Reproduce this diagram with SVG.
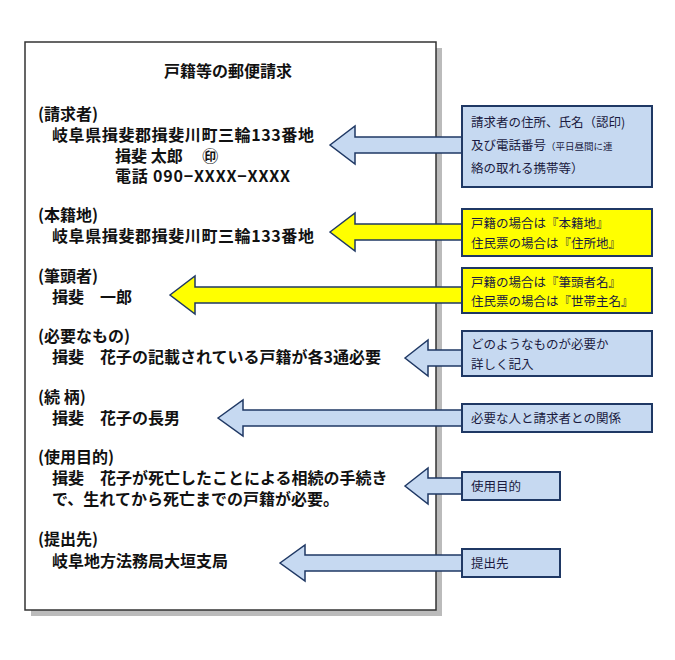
<svg xmlns="http://www.w3.org/2000/svg" width="675" height="660" viewBox="0 0 675 660">
<style>
.pt{font-family:"Noto Sans CJK JP","Noto Sans",sans-serif;font-weight:bold;font-size:16px;fill:#111}
.ct{font-family:"Noto Sans CJK JP","Noto Sans",sans-serif;font-size:12.5px;fill:#1a1a40}
.bb{fill:#c6d9f1;stroke:#1f3864;stroke-width:2}
.yb{fill:#ffff00;stroke:#1f3864;stroke-width:2}
.ba{fill:#c6d9f1;stroke:#1f3864;stroke-width:1.5;stroke-linejoin:miter}
.ya{fill:#ffff00;stroke:#1f3864;stroke-width:1.5}
</style>
<rect width="675" height="660" fill="#fff"/>
<g id="page">
<rect x="31" y="48" width="411" height="568" fill="#bbbbbb"/>
<rect x="25" y="42" width="411" height="568" fill="#fff" stroke="#333" stroke-width="1.5"/>
<text class="pt" x="228" y="77" text-anchor="middle" font-size="14">戸籍等の郵便請求</text>
<text class="pt" x="38" y="120">(請求者)</text>
<text class="pt" x="52" y="141" letter-spacing="0.6">岐阜県揖斐郡揖斐川町三輪133番地</text>
<text class="pt" x="115" y="162">揖斐 太郎　 ㊞</text>
<text class="pt" x="115" y="182" letter-spacing="0.8">電話 090−XXXX−XXXX</text>
<text class="pt" x="38" y="221">(本籍地)</text>
<text class="pt" x="52" y="242" letter-spacing="0.6">岐阜県揖斐郡揖斐川町三輪133番地</text>
<text class="pt" x="38" y="282">(筆頭者)</text>
<text class="pt" x="52" y="303">揖斐　一郎</text>
<text class="pt" x="38" y="342">(必要なもの)</text>
<text class="pt" x="52" y="363">揖斐　花子の記載されている戸籍が各3通必要</text>
<text class="pt" x="38" y="403">(続 柄)</text>
<text class="pt" x="52" y="424">揖斐　花子の長男</text>
<text class="pt" x="38" y="463">(使用目的)</text>
<text class="pt" x="52" y="484">揖斐　花子が死亡したことによる相続の手続き</text>
<text class="pt" x="52" y="505">で、生れてから死亡までの戸籍が必要。</text>
<text class="pt" x="38" y="545">(提出先)</text>
<text class="pt" x="52" y="567">岐阜地方法務局大垣支局</text>
</g>
<g id="connectors">
<polygon class="ba" points="330,145 355,126 355,137 463,137 463,153 355,153 355,164"/>
<polygon class="ya" points="330,232 355,213 355,224 463,224 463,240 355,240 355,251"/>
<polygon class="ya" points="170,295 195,276 195,287 463,287 463,303 195,303 195,314"/>
<polygon class="ba" points="405,358 428,340 428,350 463,350 463,366 428,366 428,376"/>
<polygon class="ba" points="218,418 243,400 243,410 463,410 463,426 243,426 243,436"/>
<polygon class="ba" points="405,486 428,468 428,478 463,478 463,494 428,494 428,504"/>
<polygon class="ba" points="280,563 305,545 305,555 463,555 463,571 305,571 305,581"/>
</g>
<g id="c1"><rect class="bb" x="462" y="106" width="190" height="81"/>
<text class="ct" x="471" y="127">請求者の住所、氏名（認印)</text>
<text class="ct" x="471" y="150">及び電話番号<tspan font-size="9.5">（平日昼間に連</tspan></text>
<text class="ct" x="471" y="173" font-size="9.5">絡の取れる携帯等）</text></g>
<g id="c2"><rect class="yb" x="462" y="209" width="190" height="47"/>
<text class="ct" x="471" y="228">戸籍の場合は『本籍地』</text>
<text class="ct" x="471" y="248">住民票の場合は『住所地』</text></g>
<g id="c3"><rect class="yb" x="462" y="268" width="190" height="45"/>
<text class="ct" x="471" y="287">戸籍の場合は『筆頭者名』</text>
<text class="ct" x="471" y="306">住民票の場合は『世帯主名』</text></g>
<g id="c4"><rect class="bb" x="462" y="331" width="190" height="45"/>
<text class="ct" x="471" y="349">どのようなものが必要か</text>
<text class="ct" x="471" y="369">詳しく記入</text></g>
<g id="c5"><rect class="bb" x="462" y="404" width="190" height="28"/>
<text class="ct" x="471" y="423">必要な人と請求者との関係</text></g>
<g id="c6"><rect class="bb" x="462" y="472" width="98" height="28"/>
<text class="ct" x="471" y="491">使用目的</text></g>
<g id="c7"><rect class="bb" x="462" y="549" width="98" height="28"/>
<text class="ct" x="471" y="568">提出先</text></g>
</svg>
